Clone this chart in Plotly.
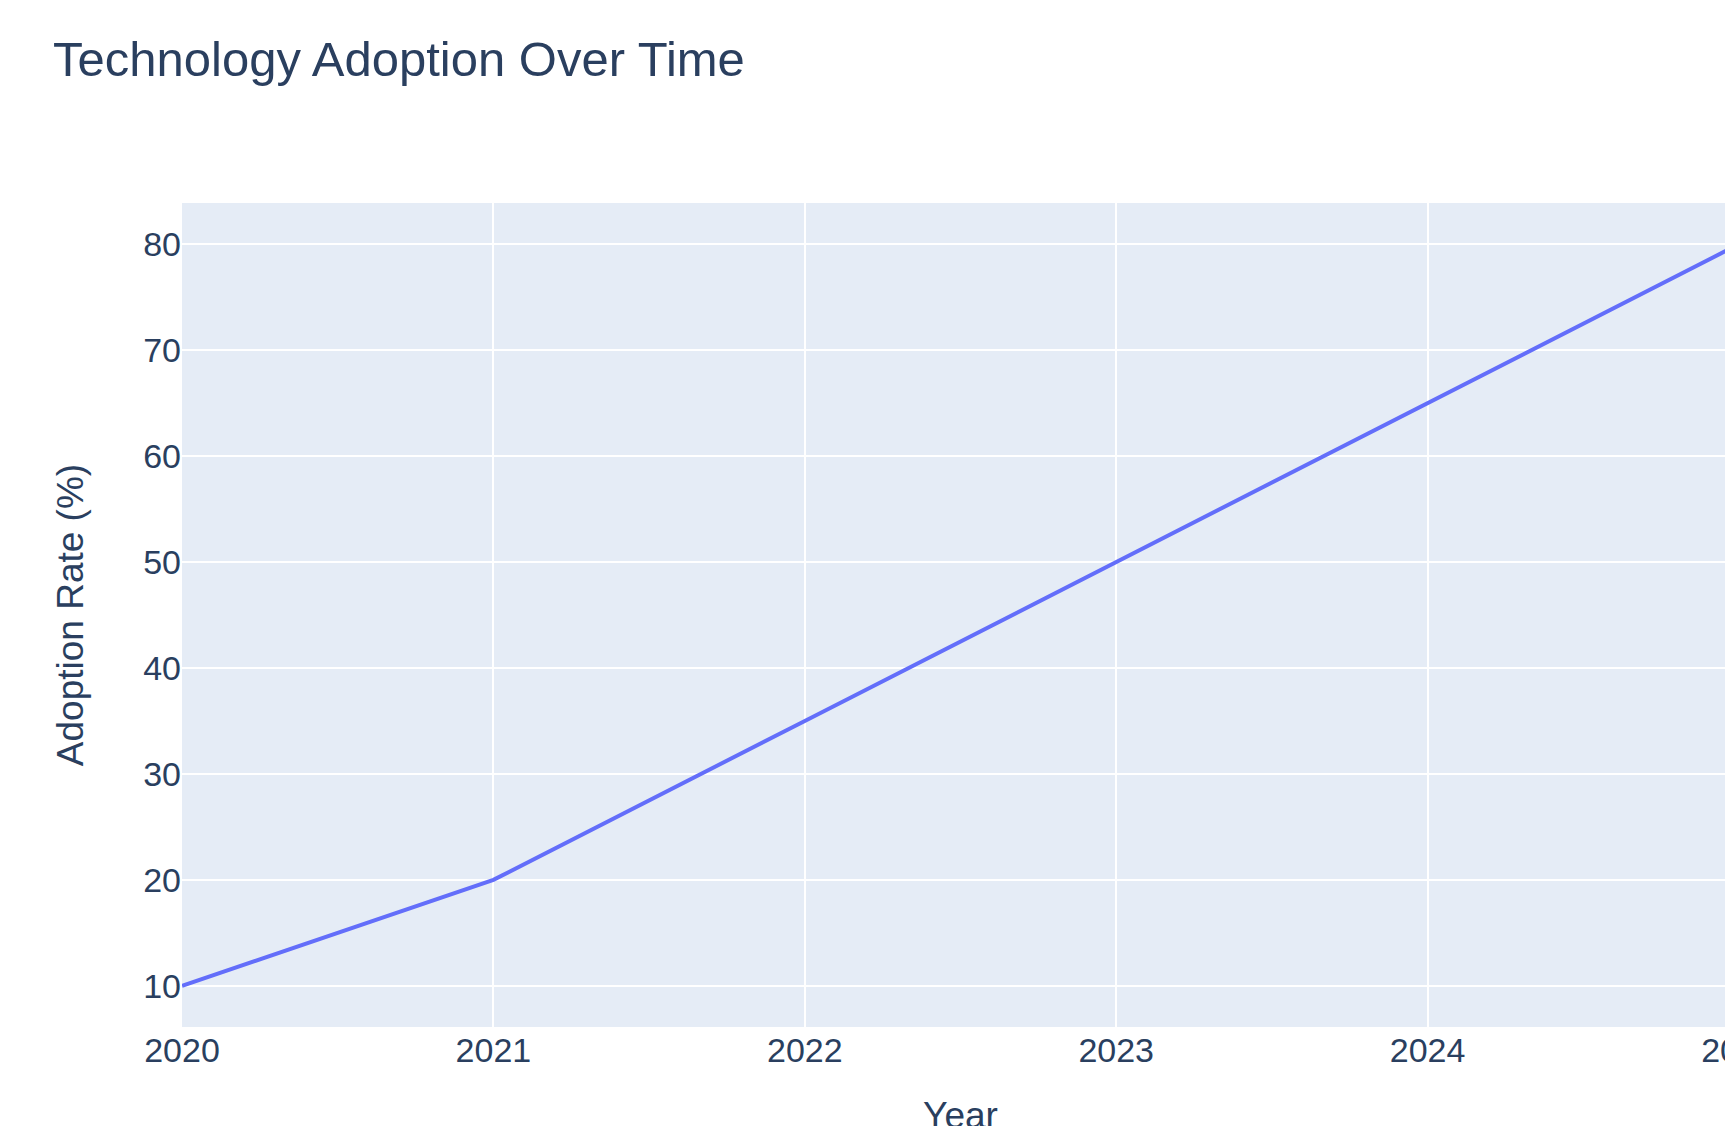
import plotly.graph_objects as go

# adoption data
years = [2020, 2021, 2022, 2023, 2024, 2025]
adoption = [10, 20, 35, 50, 65, 80]

W, H = 1811, 1200

fig = go.Figure()
fig.add_trace(
    go.Scatter(
        x=years,
        y=adoption,
        mode="lines",
        line=dict(color="#636efa", width=4),
        name="Adoption",
    )
)

fig.update_xaxes(
    title=dict(text="Year", font=dict(size=37), standoff=34),
    tickfont=dict(size=34),
    gridwidth=2,
    dtick=1,
    automargin=False,
)
fig.update_yaxes(
    title=dict(text="Adoption Rate (%)", font=dict(size=37), standoff=48),
    tickfont=dict(size=34),
    gridwidth=2,
    automargin=False,
)
fig.update_layout(
    template="plotly",
    width=W,
    height=H,
    font=dict(family="Liberation Sans, Arial, sans-serif", color="#2a3f5f"),
    title=dict(
        text="Technology Adoption Over Time",
        font=dict(size=49),
        x=45 / W,
        xanchor="left",
        xref="container",
        y=1 - 51 / H,
        yanchor="middle",
        yref="container",
    ),
    margin=dict(l=174, r=80, t=195, b=181),
    showlegend=False,
)

# figure is bigger than the window, keep scrollbars out of the shot
hide_scroll = (
    "document.documentElement.style.overflow = 'hidden';"
    "document.body.style.overflow = 'hidden';"
)
fig.write_html("out.html", post_script=hide_scroll)
